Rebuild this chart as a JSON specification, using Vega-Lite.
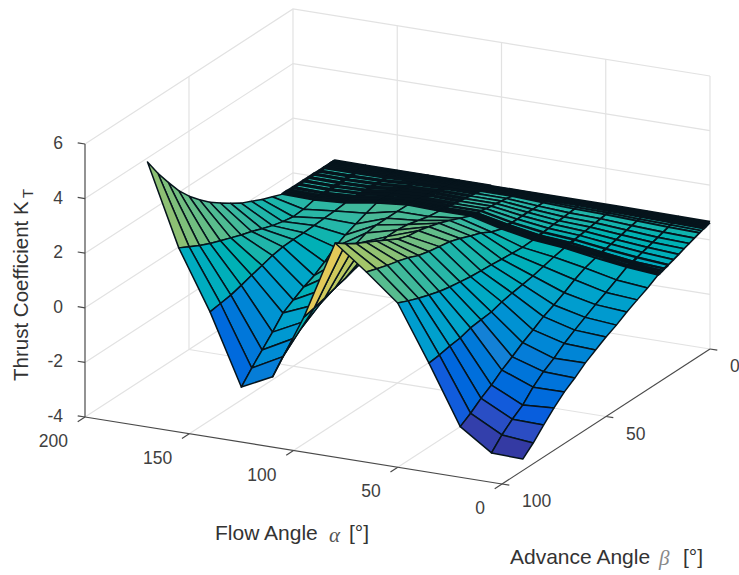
{"$schema":"https://vega.github.io/schema/vega-lite/v6.json","width":739,"height":575,"autosize":"none","padding":0,"background":"white","view":{"stroke":null},
"datasets":{
"box":[
{"l":"w1","o":0,"a":200,"b":100,"k":-2},{"l":"w1","o":1,"a":200,"b":0,"k":-2},{"l":"w1","o":2,"a":0,"b":0,"k":-2},
{"l":"w2","o":0,"a":200,"b":100,"k":0},{"l":"w2","o":1,"a":200,"b":0,"k":0},{"l":"w2","o":2,"a":0,"b":0,"k":0},
{"l":"w3","o":0,"a":200,"b":100,"k":2},{"l":"w3","o":1,"a":200,"b":0,"k":2},{"l":"w3","o":2,"a":0,"b":0,"k":2},
{"l":"w4","o":0,"a":200,"b":100,"k":4},{"l":"w4","o":1,"a":200,"b":0,"k":4},{"l":"w4","o":2,"a":0,"b":0,"k":4},
{"l":"w5","o":0,"a":200,"b":100,"k":6},{"l":"w5","o":1,"a":200,"b":0,"k":6},{"l":"w5","o":2,"a":0,"b":0,"k":6},
{"l":"f0","o":0,"a":200,"b":100,"k":-4},{"l":"f0","o":1,"a":200,"b":0,"k":-4},{"l":"f0","o":2,"a":0,"b":0,"k":-4},
{"l":"v1","o":0,"a":200,"b":50,"k":-4},{"l":"v1","o":1,"a":200,"b":50,"k":6},
{"l":"v2","o":0,"a":200,"b":0,"k":-4},{"l":"v2","o":1,"a":200,"b":0,"k":6},
{"l":"v3","o":0,"a":150,"b":0,"k":-4},{"l":"v3","o":1,"a":150,"b":0,"k":6},
{"l":"v4","o":0,"a":100,"b":0,"k":-4},{"l":"v4","o":1,"a":100,"b":0,"k":6},
{"l":"v5","o":0,"a":50,"b":0,"k":-4},{"l":"v5","o":1,"a":50,"b":0,"k":6},
{"l":"v6","o":0,"a":0,"b":0,"k":-4},{"l":"v6","o":1,"a":0,"b":0,"k":6},
{"l":"g1","o":0,"a":150,"b":100,"k":-4},{"l":"g1","o":1,"a":150,"b":0,"k":-4},
{"l":"g2","o":0,"a":100,"b":100,"k":-4},{"l":"g2","o":1,"a":100,"b":0,"k":-4},
{"l":"g3","o":0,"a":50,"b":100,"k":-4},{"l":"g3","o":1,"a":50,"b":0,"k":-4},
{"l":"g4","o":0,"a":200,"b":50,"k":-4},{"l":"g4","o":1,"a":0,"b":50,"k":-4}],
"axes":[
{"l":"z","o":0,"a":200,"b":100,"k":-4},{"l":"z","o":1,"a":200,"b":100,"k":6},
{"l":"x","o":0,"a":200,"b":100,"k":-4},{"l":"x","o":1,"a":0,"b":100,"k":-4},
{"l":"y","o":0,"a":0,"b":100,"k":-4},{"l":"y","o":1,"a":0,"b":0,"k":-4},
{"l":"z1","o":0,"a":200,"b":100,"k":6},{"l":"z1","o":1,"a":203.5,"b":100,"k":6},
{"l":"z2","o":0,"a":200,"b":100,"k":4},{"l":"z2","o":1,"a":203.5,"b":100,"k":4},
{"l":"z3","o":0,"a":200,"b":100,"k":2},{"l":"z3","o":1,"a":203.5,"b":100,"k":2},
{"l":"z4","o":0,"a":200,"b":100,"k":0},{"l":"z4","o":1,"a":203.5,"b":100,"k":0},
{"l":"z5","o":0,"a":200,"b":100,"k":-2},{"l":"z5","o":1,"a":203.5,"b":100,"k":-2},
{"l":"z6","o":0,"a":200,"b":100,"k":-4},{"l":"z6","o":1,"a":203.5,"b":100,"k":-4},
{"l":"x1","o":0,"a":200,"b":100,"k":-4},{"l":"x1","o":1,"a":200,"b":103.5,"k":-4},
{"l":"x2","o":0,"a":150,"b":100,"k":-4},{"l":"x2","o":1,"a":150,"b":103.5,"k":-4},
{"l":"x3","o":0,"a":100,"b":100,"k":-4},{"l":"x3","o":1,"a":100,"b":103.5,"k":-4},
{"l":"x4","o":0,"a":50,"b":100,"k":-4},{"l":"x4","o":1,"a":50,"b":103.5,"k":-4},
{"l":"x5","o":0,"a":0,"b":100,"k":-4},{"l":"x5","o":1,"a":0,"b":103.5,"k":-4},
{"l":"y1","o":0,"a":0,"b":100,"k":-4},{"l":"y1","o":1,"a":-3.5,"b":100,"k":-4},
{"l":"y2","o":0,"a":0,"b":50,"k":-4},{"l":"y2","o":1,"a":-3.5,"b":50,"k":-4},
{"l":"y3","o":0,"a":0,"b":0,"k":-4},{"l":"y3","o":1,"a":-3.5,"b":0,"k":-4}],
"surface":[
{"a":180,"b":0,"k":0.68},{"a":180,"b":0.5,"k":0.68},{"a":180,"b":1,"k":0.68},{"a":180,"b":1.5,"k":0.68},{"a":180,"b":2,"k":0.68},{"a":180,"b":2.5,"k":0.68},{"a":180,"b":3,"k":0.68},{"a":180,"b":4,"k":0.68},{"a":180,"b":5,"k":0.68},{"a":180,"b":7.5,"k":0.68},{"a":180,"b":10,"k":0.69},{"a":180,"b":12.5,"k":0.69},{"a":180,"b":15,"k":0.69},{"a":180,"b":17.5,"k":0.69},{"a":180,"b":20,"k":0.69},{"a":180,"b":22,"k":0.69},{"a":180,"b":23,"k":0.7},{"a":180,"b":24,"k":0.7},{"a":180,"b":25,"k":0.7},{"a":180,"b":30,"k":0.85},{"a":180,"b":35,"k":1},{"a":180,"b":40,"k":1.18},{"a":180,"b":45,"k":1.36},{"a":180,"b":50,"k":1.6},{"a":180,"b":55,"k":1.86},{"a":180,"b":60,"k":2.13},{"a":180,"b":65,"k":2.47},{"a":180,"b":70,"k":2.85},{"a":180,"b":75,"k":3.3},{"a":180,"b":80,"k":3.85},{"a":180,"b":85,"k":4.43},{"a":180,"b":90,"k":5.09},
{"a":165,"b":0,"k":0.68},{"a":165,"b":0.5,"k":0.68},{"a":165,"b":1,"k":0.68},{"a":165,"b":1.5,"k":0.68},{"a":165,"b":2,"k":0.68},{"a":165,"b":2.5,"k":0.68},{"a":165,"b":3,"k":0.68},{"a":165,"b":4,"k":0.68},{"a":165,"b":5,"k":0.68},{"a":165,"b":7.5,"k":0.68},{"a":165,"b":10,"k":0.68},{"a":165,"b":12.5,"k":0.68},{"a":165,"b":15,"k":0.68},{"a":165,"b":17.5,"k":0.68},{"a":165,"b":20,"k":0.67},{"a":165,"b":22,"k":0.67},{"a":165,"b":23,"k":0.67},{"a":165,"b":24,"k":0.67},{"a":165,"b":25,"k":0.67},{"a":165,"b":30,"k":0.58},{"a":165,"b":35,"k":0.55},{"a":165,"b":40,"k":0.62},{"a":165,"b":45,"k":0.72},{"a":165,"b":50,"k":0.85},{"a":165,"b":55,"k":1},{"a":165,"b":60,"k":1.12},{"a":165,"b":65,"k":1.26},{"a":165,"b":70,"k":1.4},{"a":165,"b":75,"k":1.55},{"a":165,"b":80,"k":1.72},{"a":165,"b":85,"k":1.92},{"a":165,"b":90,"k":2.13},
{"a":150,"b":0,"k":0.68},{"a":150,"b":0.5,"k":0.68},{"a":150,"b":1,"k":0.68},{"a":150,"b":1.5,"k":0.68},{"a":150,"b":2,"k":0.68},{"a":150,"b":2.5,"k":0.69},{"a":150,"b":3,"k":0.69},{"a":150,"b":4,"k":0.69},{"a":150,"b":5,"k":0.69},{"a":150,"b":7.5,"k":0.7},{"a":150,"b":10,"k":0.7},{"a":150,"b":12.5,"k":0.71},{"a":150,"b":15,"k":0.71},{"a":150,"b":17.5,"k":0.72},{"a":150,"b":20,"k":0.73},{"a":150,"b":22,"k":0.73},{"a":150,"b":23,"k":0.73},{"a":150,"b":24,"k":0.74},{"a":150,"b":25,"k":0.74},{"a":150,"b":30,"k":0.7},{"a":150,"b":35,"k":0.68},{"a":150,"b":40,"k":0.66},{"a":150,"b":45,"k":0.64},{"a":150,"b":50,"k":0.64},{"a":150,"b":55,"k":0.62},{"a":150,"b":60,"k":0.55},{"a":150,"b":65,"k":0.43},{"a":150,"b":70,"k":0.32},{"a":150,"b":75,"k":0.2},{"a":150,"b":80,"k":0.09},{"a":150,"b":85,"k":0.03},{"a":150,"b":90,"k":-0.03},
{"a":135,"b":0,"k":0.68},{"a":135,"b":0.5,"k":0.69},{"a":135,"b":1,"k":0.69},{"a":135,"b":1.5,"k":0.7},{"a":135,"b":2,"k":0.7},{"a":135,"b":2.5,"k":0.71},{"a":135,"b":3,"k":0.71},{"a":135,"b":4,"k":0.72},{"a":135,"b":5,"k":0.73},{"a":135,"b":7.5,"k":0.76},{"a":135,"b":10,"k":0.78},{"a":135,"b":12.5,"k":0.81},{"a":135,"b":15,"k":0.83},{"a":135,"b":17.5,"k":0.86},{"a":135,"b":20,"k":0.88},{"a":135,"b":22,"k":0.9},{"a":135,"b":23,"k":0.91},{"a":135,"b":24,"k":0.92},{"a":135,"b":25,"k":0.93},{"a":135,"b":30,"k":0.8},{"a":135,"b":35,"k":0.65},{"a":135,"b":40,"k":0.5},{"a":135,"b":45,"k":0.3},{"a":135,"b":50,"k":0},{"a":135,"b":55,"k":-0.25},{"a":135,"b":60,"k":-0.42},{"a":135,"b":65,"k":-0.65},{"a":135,"b":70,"k":-0.88},{"a":135,"b":75,"k":-1.33},{"a":135,"b":80,"k":-1.74},{"a":135,"b":85,"k":-2.15},{"a":135,"b":90,"k":-2.6},
{"a":120,"b":0,"k":0.68},{"a":120,"b":0.5,"k":0.69},{"a":120,"b":1,"k":0.69},{"a":120,"b":1.5,"k":0.7},{"a":120,"b":2,"k":0.71},{"a":120,"b":2.5,"k":0.72},{"a":120,"b":3,"k":0.72},{"a":120,"b":4,"k":0.74},{"a":120,"b":5,"k":0.75},{"a":120,"b":7.5,"k":0.79},{"a":120,"b":10,"k":0.82},{"a":120,"b":12.5,"k":0.86},{"a":120,"b":15,"k":0.9},{"a":120,"b":17.5,"k":0.93},{"a":120,"b":20,"k":0.97},{"a":120,"b":22,"k":0.99},{"a":120,"b":23,"k":1.01},{"a":120,"b":24,"k":1.02},{"a":120,"b":25,"k":1.04},{"a":120,"b":30,"k":1.05},{"a":120,"b":35,"k":1.05},{"a":120,"b":40,"k":1.05},{"a":120,"b":45,"k":1},{"a":120,"b":50,"k":0.85},{"a":120,"b":55,"k":0.6},{"a":120,"b":60,"k":0.28},{"a":120,"b":65,"k":-0.06},{"a":120,"b":70,"k":-0.4},{"a":120,"b":75,"k":-0.76},{"a":120,"b":80,"k":-1.13},{"a":120,"b":85,"k":-1.55},{"a":120,"b":90,"k":-2.04},
{"a":105,"b":0,"k":0.68},{"a":105,"b":0.5,"k":0.69},{"a":105,"b":1,"k":0.69},{"a":105,"b":1.5,"k":0.7},{"a":105,"b":2,"k":0.71},{"a":105,"b":2.5,"k":0.71},{"a":105,"b":3,"k":0.72},{"a":105,"b":4,"k":0.73},{"a":105,"b":5,"k":0.74},{"a":105,"b":7.5,"k":0.78},{"a":105,"b":10,"k":0.81},{"a":105,"b":12.5,"k":0.84},{"a":105,"b":15,"k":0.87},{"a":105,"b":17.5,"k":0.9},{"a":105,"b":20,"k":0.94},{"a":105,"b":22,"k":0.96},{"a":105,"b":23,"k":0.97},{"a":105,"b":24,"k":0.98},{"a":105,"b":25,"k":1},{"a":105,"b":30,"k":1.05},{"a":105,"b":35,"k":1.15},{"a":105,"b":40,"k":1.25},{"a":105,"b":45,"k":1.3},{"a":105,"b":50,"k":1.3},{"a":105,"b":55,"k":1.2},{"a":105,"b":60,"k":1.05},{"a":105,"b":65,"k":0.9},{"a":105,"b":70,"k":0.77},{"a":105,"b":75,"k":0.66},{"a":105,"b":80,"k":0.53},{"a":105,"b":85,"k":0.42},{"a":105,"b":90,"k":0.33},
{"a":90,"b":0,"k":0.68},{"a":90,"b":0.5,"k":0.69},{"a":90,"b":1,"k":0.69},{"a":90,"b":1.5,"k":0.7},{"a":90,"b":2,"k":0.71},{"a":90,"b":2.5,"k":0.71},{"a":90,"b":3,"k":0.72},{"a":90,"b":4,"k":0.73},{"a":90,"b":5,"k":0.74},{"a":90,"b":7.5,"k":0.78},{"a":90,"b":10,"k":0.81},{"a":90,"b":12.5,"k":0.84},{"a":90,"b":15,"k":0.87},{"a":90,"b":17.5,"k":0.9},{"a":90,"b":20,"k":0.94},{"a":90,"b":22,"k":0.96},{"a":90,"b":23,"k":0.97},{"a":90,"b":24,"k":0.98},{"a":90,"b":25,"k":1},{"a":90,"b":30,"k":1.17},{"a":90,"b":35,"k":1.33},{"a":90,"b":40,"k":1.48},{"a":90,"b":45,"k":1.6},{"a":90,"b":50,"k":1.7},{"a":90,"b":55,"k":1.75},{"a":90,"b":60,"k":1.89},{"a":90,"b":65,"k":2.1},{"a":90,"b":70,"k":2.31},{"a":90,"b":75,"k":2.51},{"a":90,"b":80,"k":2.72},{"a":90,"b":85,"k":2.95},{"a":90,"b":90,"k":3.23},
{"a":75,"b":0,"k":0.68},{"a":75,"b":0.5,"k":0.68},{"a":75,"b":1,"k":0.68},{"a":75,"b":1.5,"k":0.68},{"a":75,"b":2,"k":0.68},{"a":75,"b":2.5,"k":0.68},{"a":75,"b":3,"k":0.68},{"a":75,"b":4,"k":0.69},{"a":75,"b":5,"k":0.69},{"a":75,"b":7.5,"k":0.69},{"a":75,"b":10,"k":0.69},{"a":75,"b":12.5,"k":0.7},{"a":75,"b":15,"k":0.7},{"a":75,"b":17.5,"k":0.7},{"a":75,"b":20,"k":0.7},{"a":75,"b":22,"k":0.71},{"a":75,"b":23,"k":0.71},{"a":75,"b":24,"k":0.71},{"a":75,"b":25,"k":0.71},{"a":75,"b":30,"k":0.85},{"a":75,"b":35,"k":1.06},{"a":75,"b":40,"k":1.2},{"a":75,"b":45,"k":1.35},{"a":75,"b":50,"k":1.48},{"a":75,"b":55,"k":1.55},{"a":75,"b":60,"k":1.62},{"a":75,"b":65,"k":1.72},{"a":75,"b":70,"k":1.88},{"a":75,"b":75,"k":2},{"a":75,"b":80,"k":2.1},{"a":75,"b":85,"k":2.22},{"a":75,"b":90,"k":2.35},
{"a":60,"b":0,"k":0.68},{"a":60,"b":0.5,"k":0.68},{"a":60,"b":1,"k":0.67},{"a":60,"b":1.5,"k":0.67},{"a":60,"b":2,"k":0.66},{"a":60,"b":2.5,"k":0.66},{"a":60,"b":3,"k":0.66},{"a":60,"b":4,"k":0.65},{"a":60,"b":5,"k":0.64},{"a":60,"b":7.5,"k":0.62},{"a":60,"b":10,"k":0.6},{"a":60,"b":12.5,"k":0.58},{"a":60,"b":15,"k":0.57},{"a":60,"b":17.5,"k":0.55},{"a":60,"b":20,"k":0.53},{"a":60,"b":22,"k":0.51},{"a":60,"b":23,"k":0.51},{"a":60,"b":24,"k":0.5},{"a":60,"b":25,"k":0.49},{"a":60,"b":30,"k":0.47},{"a":60,"b":35,"k":0.5},{"a":60,"b":40,"k":0.53},{"a":60,"b":45,"k":0.57},{"a":60,"b":50,"k":0.6},{"a":60,"b":55,"k":0.63},{"a":60,"b":60,"k":0.69},{"a":60,"b":65,"k":0.75},{"a":60,"b":70,"k":0.83},{"a":60,"b":75,"k":0.95},{"a":60,"b":80,"k":1.08},{"a":60,"b":85,"k":1.23},{"a":60,"b":90,"k":1.4},
{"a":45,"b":0,"k":0.68},{"a":45,"b":0.5,"k":0.67},{"a":45,"b":1,"k":0.67},{"a":45,"b":1.5,"k":0.66},{"a":45,"b":2,"k":0.66},{"a":45,"b":2.5,"k":0.65},{"a":45,"b":3,"k":0.64},{"a":45,"b":4,"k":0.63},{"a":45,"b":5,"k":0.62},{"a":45,"b":7.5,"k":0.59},{"a":45,"b":10,"k":0.56},{"a":45,"b":12.5,"k":0.53},{"a":45,"b":15,"k":0.5},{"a":45,"b":17.5,"k":0.47},{"a":45,"b":20,"k":0.44},{"a":45,"b":22,"k":0.42},{"a":45,"b":23,"k":0.4},{"a":45,"b":24,"k":0.39},{"a":45,"b":25,"k":0.38},{"a":45,"b":30,"k":0.3},{"a":45,"b":35,"k":0.2},{"a":45,"b":40,"k":0.1},{"a":45,"b":45,"k":0.03},{"a":45,"b":50,"k":-0.03},{"a":45,"b":55,"k":-0.11},{"a":45,"b":60,"k":-0.23},{"a":45,"b":65,"k":-0.27},{"a":45,"b":70,"k":-0.32},{"a":45,"b":75,"k":-0.44},{"a":45,"b":80,"k":-0.49},{"a":45,"b":85,"k":-0.57},{"a":45,"b":90,"k":-0.62},
{"a":30,"b":0,"k":0.67},{"a":30,"b":0.5,"k":0.66},{"a":30,"b":1,"k":0.65},{"a":30,"b":1.5,"k":0.64},{"a":30,"b":2,"k":0.63},{"a":30,"b":2.5,"k":0.62},{"a":30,"b":3,"k":0.61},{"a":30,"b":4,"k":0.59},{"a":30,"b":5,"k":0.57},{"a":30,"b":7.5,"k":0.52},{"a":30,"b":10,"k":0.48},{"a":30,"b":12.5,"k":0.43},{"a":30,"b":15,"k":0.38},{"a":30,"b":17.5,"k":0.34},{"a":30,"b":20,"k":0.29},{"a":30,"b":22,"k":0.26},{"a":30,"b":23,"k":0.24},{"a":30,"b":24,"k":0.22},{"a":30,"b":25,"k":0.2},{"a":30,"b":30,"k":0.08},{"a":30,"b":35,"k":-0.1},{"a":30,"b":40,"k":-0.33},{"a":30,"b":45,"k":-0.53},{"a":30,"b":50,"k":-0.71},{"a":30,"b":55,"k":-0.95},{"a":30,"b":60,"k":-1.17},{"a":30,"b":65,"k":-1.44},{"a":30,"b":70,"k":-1.68},{"a":30,"b":75,"k":-1.98},{"a":30,"b":80,"k":-2.22},{"a":30,"b":85,"k":-2.52},{"a":30,"b":90,"k":-2.76},
{"a":15,"b":0,"k":0.66},{"a":15,"b":0.5,"k":0.65},{"a":15,"b":1,"k":0.64},{"a":15,"b":1.5,"k":0.62},{"a":15,"b":2,"k":0.61},{"a":15,"b":2.5,"k":0.6},{"a":15,"b":3,"k":0.58},{"a":15,"b":4,"k":0.56},{"a":15,"b":5,"k":0.53},{"a":15,"b":7.5,"k":0.47},{"a":15,"b":10,"k":0.4},{"a":15,"b":12.5,"k":0.34},{"a":15,"b":15,"k":0.28},{"a":15,"b":17.5,"k":0.22},{"a":15,"b":20,"k":0.16},{"a":15,"b":22,"k":0.1},{"a":15,"b":23,"k":0.08},{"a":15,"b":24,"k":0.06},{"a":15,"b":25,"k":0.05},{"a":15,"b":30,"k":-0.17},{"a":15,"b":35,"k":-0.38},{"a":15,"b":40,"k":-0.58},{"a":15,"b":45,"k":-0.8},{"a":15,"b":50,"k":-1.02},{"a":15,"b":55,"k":-1.26},{"a":15,"b":60,"k":-1.56},{"a":15,"b":65,"k":-1.8},{"a":15,"b":70,"k":-2.12},{"a":15,"b":75,"k":-2.53},{"a":15,"b":80,"k":-2.8},{"a":15,"b":85,"k":-3.13},{"a":15,"b":90,"k":-3.54},
{"a":0,"b":0,"k":0.65},{"a":0,"b":0.5,"k":0.64},{"a":0,"b":1,"k":0.62},{"a":0,"b":1.5,"k":0.61},{"a":0,"b":2,"k":0.59},{"a":0,"b":2.5,"k":0.58},{"a":0,"b":3,"k":0.56},{"a":0,"b":4,"k":0.53},{"a":0,"b":5,"k":0.5},{"a":0,"b":7.5,"k":0.43},{"a":0,"b":10,"k":0.36},{"a":0,"b":12.5,"k":0.29},{"a":0,"b":15,"k":0.21},{"a":0,"b":17.5,"k":0.14},{"a":0,"b":20,"k":0.07},{"a":0,"b":22,"k":0.03},{"a":0,"b":23,"k":0},{"a":0,"b":24,"k":-0.03},{"a":0,"b":25,"k":-0.05},{"a":0,"b":30,"k":-0.28},{"a":0,"b":35,"k":-0.47},{"a":0,"b":40,"k":-0.67},{"a":0,"b":45,"k":-0.9},{"a":0,"b":50,"k":-1.09},{"a":0,"b":55,"k":-1.32},{"a":0,"b":60,"k":-1.55},{"a":0,"b":65,"k":-1.85},{"a":0,"b":70,"k":-2.11},{"a":0,"b":75,"k":-2.45},{"a":0,"b":80,"k":-2.83},{"a":0,"b":85,"k":-3.24},{"a":0,"b":90,"k":-3.58}]},
"encoding":{
"x":{"field":"u","type":"quantitative","scale":{"domain":[0,739],"nice":false,"zero":false},"axis":null},
"y":{"field":"v","type":"quantitative","scale":{"domain":[575,0],"nice":false,"zero":false},"axis":null}},
"layer":[
{"data":{"name":"box"},"transform":[{"calculate":"710-2.085*datum.a-2.08*datum.b","as":"u"},{"calculate":"349-0.335*datum.a+1.35*datum.b-27.3*(datum.k+4)","as":"v"}],
"mark":{"type":"line","stroke":"#e2e2e2","strokeWidth":1.2},"encoding":{"detail":{"field":"l"},"order":{"field":"o","type":"quantitative"}}},
{"data":{"name":"axes"},"transform":[{"calculate":"710-2.085*datum.a-2.08*datum.b","as":"u"},{"calculate":"349-0.335*datum.a+1.35*datum.b-27.3*(datum.k+4)","as":"v"}],
"mark":{"type":"line","stroke":"#4a4a4a","strokeWidth":1.2},"encoding":{"detail":{"field":"l"},"order":{"field":"o","type":"quantitative"}}},
{"data":{"name":"surface"},"transform":[
{"window":[{"op":"dense_rank","as":"i"}],"sort":[{"field":"a","order":"descending"}]},
{"window":[{"op":"dense_rank","as":"j"}],"sort":[{"field":"b","order":"ascending"}]},
{"calculate":"710-2.085*datum.a-2.08*datum.b","as":"u"},{"calculate":"349-0.335*datum.a+1.35*datum.b-27.3*(datum.k+4)","as":"v"},
{"calculate":"[[1,0,0],[1,1,1],[0,1,2],[0,0,3],[1,0,4]]","as":"cs"},{"flatten":["cs"]},
{"calculate":"datum.i-datum.cs[0]","as":"ci"},{"calculate":"datum.j-datum.cs[1]","as":"cj"},{"calculate":"datum.cs[2]","as":"ord"},
{"filter":"datum.ci>=1 && datum.cj>=1 && datum.ci<=12 && datum.cj<=31"},
{"calculate":"'c'+datum.ci+'_'+datum.cj","as":"cell"},
{"calculate":"datum.ord==0 ? datum.k : null","as":"k0"},
{"joinaggregate":[{"op":"max","field":"k0","as":"c"}],"groupby":["cell"]}],
"mark":{"type":"line","stroke":"#06141c","strokeJoin":"round"},
"encoding":{"detail":{"field":"cell"},"order":{"field":"ord","type":"quantitative"},
"strokeWidth":{"condition":[{"test":"datum.cj<=18 && datum.ci<=5","value":3.2},{"test":"datum.cj<=6 || (datum.cj>=15 && datum.cj<=18)","value":2.4},{"test":"datum.cj<=18","value":1.7}],"value":1.5},
"fill":{"field":"c","type":"quantitative","legend":null,"scale":{"domain":[-3.6,-2.51,-1.43,-0.34,0.75,1.84,2.93,4.01,5.1],"range":["#352a87","#0f5cdd","#1481d6","#06a4ca","#2eb7a4","#87bf77","#e3c95a","#fec832","#f9fb0e"]}}}},
{"data":{"values":[{"t":"6","a":200,"b":100,"k":6},{"t":"4","a":200,"b":100,"k":4},{"t":"2","a":200,"b":100,"k":2},{"t":"0","a":200,"b":100,"k":0},{"t":"-2","a":200,"b":100,"k":-2},{"t":"-4","a":200,"b":100,"k":-4}]},
"transform":[{"calculate":"710-2.085*datum.a-2.08*datum.b","as":"u"},{"calculate":"349-0.335*datum.a+1.35*datum.b-27.3*(datum.k+4)","as":"v"}],
"mark":{"type":"text","align":"right","baseline":"middle","dx":-22,"font":"Liberation Sans","fontSize":17.5,"fill":"#404040"},"encoding":{"text":{"field":"t"}}},
{"data":{"values":[{"t":"200","a":200,"b":100,"k":-4},{"t":"150","a":150,"b":100,"k":-4},{"t":"100","a":100,"b":100,"k":-4},{"t":"50","a":50,"b":100,"k":-4},{"t":"0","a":0,"b":100,"k":-4}]},
"transform":[{"calculate":"710-2.085*datum.a-2.08*datum.b","as":"u"},{"calculate":"349-0.335*datum.a+1.35*datum.b-27.3*(datum.k+4)","as":"v"}],
"mark":{"type":"text","align":"right","baseline":"middle","dx":-17,"dy":25,"font":"Liberation Sans","fontSize":17.5,"fill":"#404040"},"encoding":{"text":{"field":"t"}}},
{"data":{"values":[{"t":"100","a":0,"b":100,"k":-4},{"t":"50","a":0,"b":50,"k":-4},{"t":"0","a":0,"b":0,"k":-4}]},
"transform":[{"calculate":"710-2.085*datum.a-2.08*datum.b","as":"u"},{"calculate":"349-0.335*datum.a+1.35*datum.b-27.3*(datum.k+4)","as":"v"}],
"mark":{"type":"text","align":"left","baseline":"middle","dx":20,"dy":18,"font":"Liberation Sans","fontSize":17.5,"fill":"#404040"},"encoding":{"text":{"field":"t"}}},
{"data":{"values":[{"t":"Flow Angle","a":100,"b":100,"k":-4}]},
"transform":[{"calculate":"710-2.085*datum.a-2.08*datum.b","as":"u"},{"calculate":"349-0.335*datum.a+1.35*datum.b-27.3*(datum.k+4)","as":"v"}],
"mark":{"type":"text","align":"left","baseline":"middle","dx":-78.5,"dy":83.5,"font":"Liberation Sans","fontSize":21,"fill":"#333333"},"encoding":{"text":{"field":"t"}}},
{"data":{"values":[{"t":"α","a":100,"b":100,"k":-4}]},
"transform":[{"calculate":"710-2.085*datum.a-2.08*datum.b","as":"u"},{"calculate":"349-0.335*datum.a+1.35*datum.b-27.3*(datum.k+4)","as":"v"}],
"mark":{"type":"text","align":"left","baseline":"middle","dx":35.5,"dy":85,"font":"Liberation Serif","fontStyle":"italic","fontSize":21,"fill":"#555555"},"encoding":{"text":{"field":"t"}}},
{"data":{"values":[{"t":"[°]","a":100,"b":100,"k":-4}]},
"transform":[{"calculate":"710-2.085*datum.a-2.08*datum.b","as":"u"},{"calculate":"349-0.335*datum.a+1.35*datum.b-27.3*(datum.k+4)","as":"v"}],
"mark":{"type":"text","align":"left","baseline":"middle","dx":55.5,"dy":83.5,"font":"Liberation Sans","fontSize":21,"fill":"#333333"},"encoding":{"text":{"field":"t"}}},
{"data":{"values":[{"t":"Advance Angle","a":0,"b":50,"k":-4}]},
"transform":[{"calculate":"710-2.085*datum.a-2.08*datum.b","as":"u"},{"calculate":"349-0.335*datum.a+1.35*datum.b-27.3*(datum.k+4)","as":"v"}],
"mark":{"type":"text","align":"left","baseline":"middle","dx":-96,"dy":141,"font":"Liberation Sans","fontSize":21,"fill":"#333333"},"encoding":{"text":{"field":"t"}}},
{"data":{"values":[{"t":"β","a":0,"b":50,"k":-4}]},
"transform":[{"calculate":"710-2.085*datum.a-2.08*datum.b","as":"u"},{"calculate":"349-0.335*datum.a+1.35*datum.b-27.3*(datum.k+4)","as":"v"}],
"mark":{"type":"text","align":"left","baseline":"middle","dx":53,"dy":142,"font":"Liberation Serif","fontStyle":"italic","fontSize":21,"fill":"#888888"},"encoding":{"text":{"field":"t"}}},
{"data":{"values":[{"t":"[°]","a":0,"b":50,"k":-4}]},
"transform":[{"calculate":"710-2.085*datum.a-2.08*datum.b","as":"u"},{"calculate":"349-0.335*datum.a+1.35*datum.b-27.3*(datum.k+4)","as":"v"}],
"mark":{"type":"text","align":"left","baseline":"middle","dx":77,"dy":141,"font":"Liberation Sans","fontSize":21,"fill":"#333333"},"encoding":{"text":{"field":"t"}}},
{"data":{"values":[{"t":"Thrust Coefficient K","a":200,"b":100,"k":-2.68}]},
"transform":[{"calculate":"710-2.085*datum.a-2.08*datum.b","as":"u"},{"calculate":"349-0.335*datum.a+1.35*datum.b-27.3*(datum.k+4)","as":"v"}],
"mark":{"type":"text","align":"left","baseline":"middle","angle":270,"dy":-63,"font":"Liberation Sans","fontSize":20.5,"fill":"#333333"},"encoding":{"text":{"field":"t"}}},
{"data":{"values":[{"t":"T","a":200,"b":100,"k":4.02}]},
"transform":[{"calculate":"710-2.085*datum.a-2.08*datum.b","as":"u"},{"calculate":"349-0.335*datum.a+1.35*datum.b-27.3*(datum.k+4)","as":"v"}],
"mark":{"type":"text","align":"left","baseline":"middle","angle":270,"dy":-57,"font":"Liberation Sans","fontSize":15,"fill":"#333333"},"encoding":{"text":{"field":"t"}}}
]}
